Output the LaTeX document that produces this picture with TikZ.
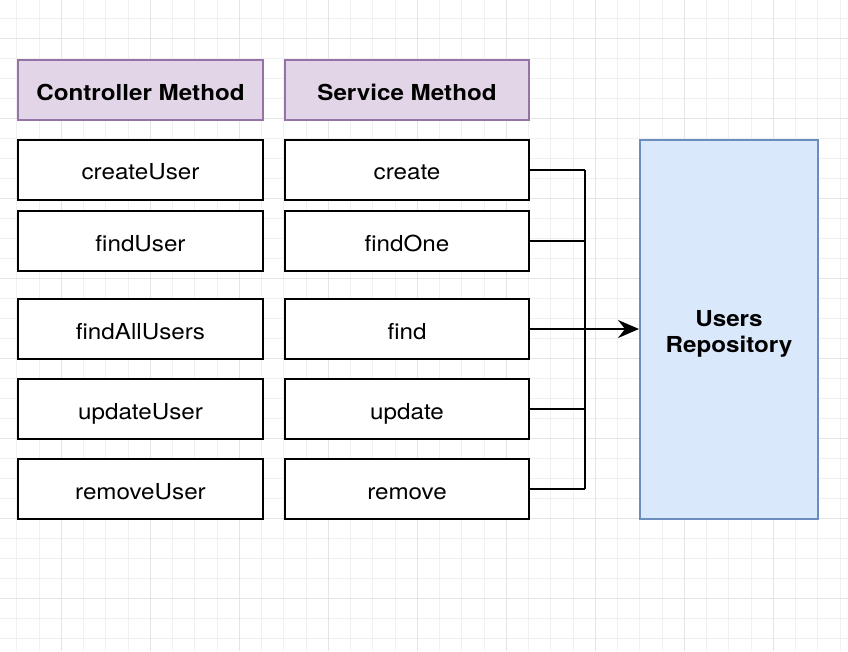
\documentclass[tikz,border=0pt]{standalone}
\usepackage{fontspec}
\setmainfont{TeX Gyre Heros}[FakeStretch=1.1]
\usetikzlibrary{arrows.meta}
\usetikzlibrary{positioning}
\definecolor{gridminor}{HTML}{F0F0F0}
\definecolor{gridmajor}{HTML}{E4E4E4}
\definecolor{headfill}{HTML}{E1D5E7}
\definecolor{headline}{HTML}{9673A6}
\definecolor{repofill}{HTML}{DAE8FC}
\definecolor{repoline}{HTML}{6C8EBF}
\tikzset{method/.style = {draw, line width=2pt, fill=white, minimum height=60pt,
                          text height=20pt, text depth=0pt,
                          font=\fontsize{22}{26}\selectfont},
         header/.style = {method, draw=headline, fill=headfill, font=\fontsize{22}{26}\selectfont\bfseries},
         repo/.style = {draw=repoline, line width=2pt, fill=repofill, minimum width=178pt,
                        minimum height=379pt, align=center, text height=45pt, text depth=0pt,
                        font=\fontsize{22}{26}\selectfont\bfseries},
         ->/.style = {-{Stealth[length=21pt,width=18pt,inset=7pt]}}}

\begin{document}
\begin{tikzpicture}[x=1pt,y=-1pt]
    \useasboundingbox (0, 0) rectangle (848, 651);
    % grid
    \foreach \x in {0,...,37} {
      \draw [gridminor, line width=0.8pt] (16.8 + 22.25 * \x, 0) -- (16.8 + 22.25 * \x, 651);
    }
    \foreach \y in {0,...,32} {
      \draw [gridminor, line width=0.8pt] (0, 18.7 + 20 * \y) -- (848, 18.7 + 20 * \y);
    }
    \foreach \x in {0,...,9} {
      \draw [gridmajor, line width=1pt] (61.3 + 89 * \x, 0) -- (61.3 + 89 * \x, 651);
    }
    \foreach \y in {0,...,7} {
      \draw [gridmajor, line width=1pt] (0, 38.7 + 80 * \y) -- (848, 38.7 + 80 * \y);
    }
    \node [header, minimum width=245pt] (ctrlhead) at (140.5, 90) {Controller Method};
    \node [header, minimum width=244pt] (svchead) at (407, 90) {Service Method};
    \foreach \y/\c/\s [count=\i] in {169.5/createUser/create, 241/findUser/findOne,
                                     329/findAllUsers/find, 409/updateUser/update,
                                     489/removeUser/remove} {
      \node [method, minimum width=245pt] (ctrl\i) at (140.5, \y) {\c};
      \node [method, minimum width=244pt] (svc\i) at (407, \y) {\s};
    }
    \node [repo] (repo) at (729, 329.5) {Users\\Repository};
    \coordinate (bus) at (585, 329);
    \foreach \i in {1, 2, 4, 5} {
      \draw [line width=2pt] (svc\i.east) -- (svc\i.east -| bus);
    }
    \draw [line width=2pt] (svc1.east -| bus) -- (svc5.east -| bus);
    \draw [->, line width=2pt] (svc3.east) -- (repo.west |- svc3.east);
  \end{tikzpicture}
\end{document}
